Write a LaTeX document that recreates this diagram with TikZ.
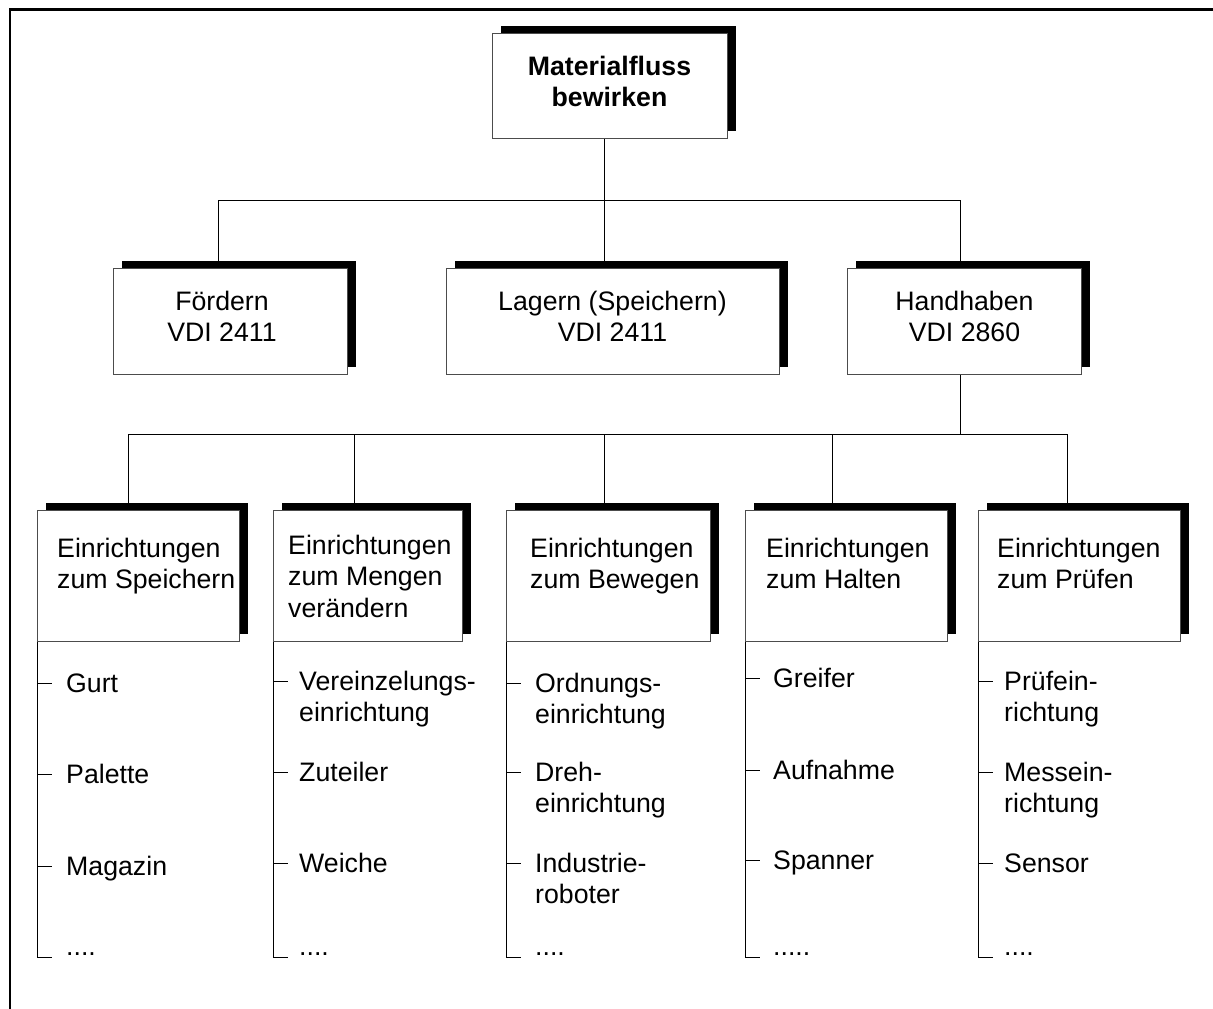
\documentclass[tikz,border=0pt]{standalone}
\usepackage{fontspec}
\setmainfont{Liberation Sans}
\usetikzlibrary{shadows}
\pgfdeclarelayer{bg}
\pgfsetlayers{bg,main}
\newcommand\lstitem[5]{%
  \node[txt, anchor=north west, align=left] (#1) at (#3, #4-22.05) {#5};
  \coordinate (#1t) at (0, #4-8.5);
  \draw[conn] (#2.west |- #1t) -- ++(15,0);
}
\begin{document}
\begin{tikzpicture}[x=1pt,y=-1pt,
  frame/.style={line width=2.5pt},
  conn/.style={line width=1pt, draw=black},
  fbox/.style={draw=black!70, line width=1.2pt, fill=white, inner sep=0pt, anchor=north west,
     general shadow={fill=black, shadow xshift=8pt, shadow yshift=8pt}},
  txt/.style={inner sep=0pt, font=\fontsize{26.7}{31.5}\selectfont},
  ]
\useasboundingbox (0,0) rectangle (1213,1009);
% frame
\coordinate (fa) at (1213,9.5);
\coordinate (fc) at (10,9.5);
\coordinate (fb) at (10,1009);
\draw[frame] (fa) -- (fc) -- (fb);

% boxes
\node[fbox, minimum width=235pt, minimum height=105pt] (top) at (492,33) {};
\node[fbox, minimum width=234pt, minimum height=106pt] (fo) at (113,268) {};
\node[fbox, minimum width=333pt, minimum height=106pt] (la) at (446,268) {};
\node[fbox, minimum width=234pt, minimum height=106pt] (ha) at (847,268) {};
\node[fbox, minimum width=202pt, minimum height=131pt] (b1) at (37,510) {};
\node[fbox, minimum width=189pt, minimum height=131pt] (b2) at (273,510) {};
\node[fbox, minimum width=204pt, minimum height=131pt] (b3) at (506,510) {};
\node[fbox, minimum width=202pt, minimum height=131pt] (b4) at (745,510) {};
\node[fbox, minimum width=202pt, minimum height=131pt] (b5) at (978,510) {};

\begin{pgfonlayer}{bg}
% connectors level 1
\coordinate (j0) at (604,200);
\coordinate (j1) at (218,200);
\coordinate (j3) at (960,200);
\draw[conn] (top.south -| j0) -- (j0);
\draw[conn] (j1) -- (j3);
\draw[conn] (j1) -- (fo.north -| j1);
\draw[conn] (j0) -- (la.north -| j0);
\draw[conn] (j3) -- (ha.north -| j3);
% connectors level 2
\coordinate (k0) at (960,434);
\coordinate (k1) at (128,434);
\coordinate (k2) at (354,434);
\coordinate (k3) at (604,434);
\coordinate (k4) at (832,434);
\coordinate (k5) at (1067,434);
\draw[conn] (ha.south -| k0) -- (k0);
\draw[conn] (k1) -- (k5);
\draw[conn] (k1) -- (b1.north -| k1);
\draw[conn] (k2) -- (b2.north -| k2);
\draw[conn] (k3) -- (b3.north -| k3);
\draw[conn] (k4) -- (b4.north -| k4);
\draw[conn] (k5) -- (b5.north -| k5);
\end{pgfonlayer}

% box texts
\node[txt, anchor=north, align=center, font=\fontsize{26.7}{31.5}\selectfont\bfseries] (toptxt) at (609.5,52.95) {\strut Materialfluss\\\strut bewirken};
\node[txt, anchor=north, align=center] (fotxt) at (222,287.95) {\strut Fördern\\\strut VDI 2411};
\node[txt, anchor=north, align=center] (latxt) at (612.5,287.95) {\strut Lagern (Speichern)\\\strut VDI 2411};
\node[txt, anchor=north, align=center] (hatxt) at (964.5,287.95) {\strut Handhaben\\\strut VDI 2860};
\node[txt, anchor=north west, align=left] (b1txt) at (57,534.95) {\strut Einrichtungen\\\strut zum Speichern};
\node[txt, anchor=north west, align=left] (b2txt) at (288,531.95) {\strut Einrichtungen\\\strut zum Mengen\\\strut verändern};
\node[txt, anchor=north west, align=left] (b3txt) at (530,534.95) {\strut Einrichtungen\\\strut zum Bewegen};
\node[txt, anchor=north west, align=left] (b4txt) at (766,534.95) {\strut Einrichtungen\\\strut zum Halten};
\node[txt, anchor=north west, align=left] (b5txt) at (997,534.95) {\strut Einrichtungen\\\strut zum Prüfen};

% lists
\coordinate (bot) at (0,957);
\foreach \b in {b1,b2,b3,b4,b5}{
  \draw[conn] (\b.south west) -- (\b.south west |- bot) -- ++(15,0);
}
% box 1
\lstitem{i11}{b1}{66}{692}{\strut Gurt}
\lstitem{i12}{b1}{66}{783}{\strut Palette}
\lstitem{i13}{b1}{66}{875}{\strut Magazin}
\node[txt, anchor=base west] (i14) at (66,955) {....};
% box 2
\lstitem{i21}{b2}{299}{690}{\strut Vereinzelungs-\\\strut einrichtung}
\lstitem{i22}{b2}{299}{781}{\strut Zuteiler}
\lstitem{i23}{b2}{299}{872}{\strut Weiche}
\node[txt, anchor=base west] (i24) at (299,955) {....};
% box 3
\lstitem{i31}{b3}{535}{692}{\strut Ordnungs-\\\strut einrichtung}
\lstitem{i32}{b3}{535}{781}{\strut Dreh-\\\strut einrichtung}
\lstitem{i33}{b3}{535}{872}{\strut Industrie-\\\strut roboter}
\node[txt, anchor=base west] (i34) at (535,955) {....};
% box 4
\lstitem{i41}{b4}{773}{687}{\strut Greifer}
\lstitem{i42}{b4}{773}{779}{\strut Aufnahme}
\lstitem{i43}{b4}{773}{869}{\strut Spanner}
\node[txt, anchor=base west] (i44) at (773,955) {.....};
% box 5
\lstitem{i51}{b5}{1004}{690}{\strut Prüfein-\\\strut richtung}
\lstitem{i52}{b5}{1004}{781}{\strut Messein-\\\strut richtung}
\lstitem{i53}{b5}{1004}{872}{\strut Sensor}
\node[txt, anchor=base west] (i54) at (1004,955) {....};
\end{tikzpicture}
\end{document}
